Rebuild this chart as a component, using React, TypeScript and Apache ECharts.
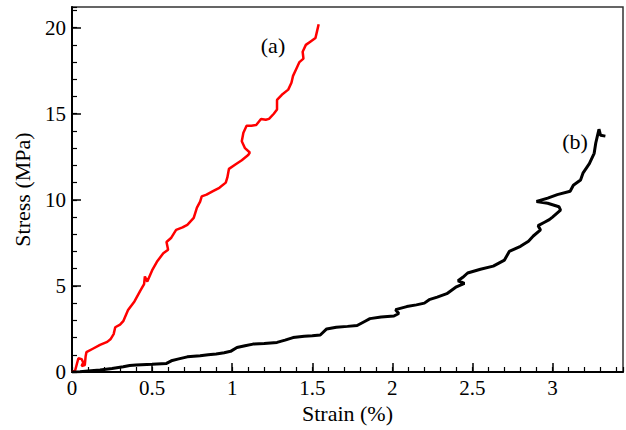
import React, { useEffect, useRef } from "react";
import * as echarts from "echarts";

const xTickLabels = ["0", "0.5", "1", "1.5", "2", "2.5", "3"];
const yTickLabels = ["0", "5", "10", "15", "20"];

// Curve (a): [strain %, stress MPa]
const curveA: number[][] = [
  [0, 0], [0.02, 0.1], [0.03, 0.45], [0.04, 0.8], [0.06, 0.75], [0.07, 0.55], [0.06, 0.35], [0.08, 0.4],
  [0.085, 0.9], [0.09, 1.15], [0.13, 1.35], [0.175, 1.57], [0.22, 1.75], [0.24, 1.9], [0.26, 2.2],
  [0.27, 2.6], [0.3, 2.75], [0.32, 2.95], [0.35, 3.6], [0.39, 4.1], [0.425, 4.7], [0.45, 5.1],
  [0.455, 5.55], [0.47, 5.25], [0.5, 5.9], [0.53, 6.4], [0.55, 6.65], [0.57, 6.9], [0.6, 7.1],
  [0.59, 7.55], [0.62, 7.8], [0.65, 8.25], [0.69, 8.4], [0.72, 8.55], [0.76, 8.95], [0.78, 9.55],
  [0.8, 9.9], [0.81, 10.2], [0.84, 10.3], [0.88, 10.5], [0.92, 10.7], [0.96, 11.0], [0.97, 11.3],
  [0.98, 11.8], [1.02, 12.05], [1.06, 12.3], [1.1, 12.6], [1.11, 12.75], [1.08, 13.0], [1.06, 13.4],
  [1.07, 13.9], [1.09, 14.3], [1.12, 14.3], [1.15, 14.35], [1.18, 14.7], [1.21, 14.65], [1.23, 14.7],
  [1.26, 15.0], [1.28, 15.25], [1.28, 15.8], [1.31, 16.1], [1.35, 16.4], [1.37, 16.8], [1.38, 17.2],
  [1.4, 17.6], [1.42, 18.0], [1.445, 18.2], [1.44, 18.6], [1.46, 19.0], [1.49, 19.2], [1.52, 19.4],
  [1.53, 19.8], [1.54, 20.2],
];

// Curve (b): [strain %, stress MPa]
const curveB: number[][] = [
  [0, 0], [0.05, 0.02], [0.1, 0.06], [0.175, 0.12], [0.25, 0.2], [0.32, 0.3], [0.36, 0.38], [0.4, 0.4],
  [0.5, 0.45], [0.59, 0.5], [0.62, 0.65], [0.66, 0.75], [0.72, 0.88], [0.8, 0.95], [0.85, 1.0],
  [0.9, 1.05], [0.95, 1.12], [0.99, 1.2], [1.03, 1.42], [1.08, 1.52], [1.13, 1.62], [1.2, 1.66],
  [1.28, 1.72], [1.33, 1.85], [1.38, 2.0], [1.45, 2.08], [1.5, 2.1], [1.55, 2.15], [1.59, 2.5],
  [1.65, 2.6], [1.72, 2.65], [1.78, 2.7], [1.83, 2.95], [1.86, 3.1], [1.93, 3.2], [2.01, 3.25],
  [2.04, 3.4], [2.02, 3.62], [2.09, 3.8], [2.15, 3.9], [2.2, 4.0], [2.23, 4.2], [2.28, 4.35],
  [2.34, 4.55], [2.37, 4.75], [2.4, 4.95], [2.45, 5.15], [2.41, 5.3], [2.44, 5.5], [2.47, 5.75],
  [2.55, 5.97], [2.63, 6.15], [2.7, 6.5], [2.73, 7.0], [2.8, 7.3], [2.85, 7.6], [2.88, 7.9],
  [2.925, 8.25], [2.91, 8.5], [2.95, 8.7], [2.98, 8.85], [3.0, 9.0], [3.05, 9.4], [3.04, 9.6],
  [2.97, 9.8], [2.9, 9.9], [2.97, 10.1], [3.03, 10.3], [3.11, 10.5], [3.13, 10.85], [3.175, 11.15],
  [3.19, 11.55], [3.23, 12.1], [3.26, 12.7], [3.27, 13.3], [3.28, 13.7], [3.29, 14.1], [3.3, 13.75],
  [3.33, 13.7],
];

const seriesNames = ["(a)", "(b)"];
const X_MAX = 3.44;
const Y_MAX = 21.2;
const FONT = "Liberation Serif";
const FS = 21;
const NAME_FS = 22;

export default function App() {
  const ref = useRef<HTMLDivElement>(null);
  useEffect(() => {
    document.body.style.margin = "0";
    if (!ref.current) return;
    const chart = echarts.init(ref.current, undefined, { renderer: "svg" });
    const labelStyle = { fontFamily: FONT, fontSize: FS, color: "#000" };
    const nameStyle = { fontFamily: FONT, fontSize: NAME_FS, color: "#000" };
    chart.setOption({
      animation: false,
      textStyle: { fontFamily: FONT },
      grid: { left: 72, right: 3, top: 7, bottom: 58, show: true, borderColor: "#333", borderWidth: 1.5 },
      xAxis: [
        {
          type: "value", min: 0, max: X_MAX, interval: 0.5, position: "bottom",
          axisLine: { show: true, onZero: false, lineStyle: { color: "#000", width: 2 } },
          axisTick: { show: true, inside: true, length: 9, lineStyle: { color: "#000", width: 1.5 } },
          axisLabel: {
            ...labelStyle, margin: 5, showMaxLabel: false,
            formatter: (v: number) => xTickLabels[Math.round(v / 0.5)] ?? "",
          },
          splitLine: { show: false },
          name: "Strain (%)", nameLocation: "middle", nameGap: 30,
          nameTextStyle: nameStyle,
        },
        {
          type: "value", min: 0, max: X_MAX, interval: 0.1, position: "bottom",
          axisLine: { show: false },
          axisTick: { show: true, inside: true, length: 5, lineStyle: { color: "#000", width: 1.2 } },
          axisLabel: { show: false },
          splitLine: { show: false },
        },
      ],
      yAxis: [
        {
          type: "value", min: 0, max: Y_MAX, interval: 5, position: "left",
          axisLine: { show: true, onZero: false, lineStyle: { color: "#000", width: 2 } },
          axisTick: { show: true, inside: true, length: 9, lineStyle: { color: "#000", width: 1.5 } },
          axisLabel: {
            ...labelStyle, margin: 6, showMaxLabel: false,
            formatter: (v: number) => yTickLabels[Math.round(v / 5)] ?? "",
          },
          splitLine: { show: false },
          name: "Stress (MPa)", nameLocation: "middle", nameGap: 39,
          nameTextStyle: nameStyle,
        },
        {
          type: "value", min: 0, max: Y_MAX, interval: 1, position: "left",
          axisLine: { show: false },
          axisTick: { show: true, inside: true, length: 5, lineStyle: { color: "#000", width: 1.2 } },
          axisLabel: { show: false },
          splitLine: { show: false },
        },
      ],
      series: [
        {
          name: seriesNames[0], type: "line", data: curveA, showSymbol: false, symbol: "none",
          xAxisIndex: 0, yAxisIndex: 0,
          lineStyle: { color: "#ff0000", width: 2.5 },
        },
        {
          name: seriesNames[1], type: "line", data: curveB, showSymbol: false, symbol: "none",
          xAxisIndex: 0, yAxisIndex: 0,
          lineStyle: { color: "#000", width: 3 },
        },
      ],
      graphic: [
        {
          type: "text", x: 273, y: 45,
          style: { text: seriesNames[0], fontFamily: FONT, fontSize: NAME_FS, fill: "#000", align: "center", verticalAlign: "middle" },
        },
        {
          type: "text", x: 575, y: 141,
          style: { text: seriesNames[1], fontFamily: FONT, fontSize: NAME_FS, fill: "#000", align: "center", verticalAlign: "middle" },
        },
      ],
    });
    return () => chart.dispose();
  }, []);
  return <div ref={ref} style={{ width: 626, height: 430 }} />;
}
